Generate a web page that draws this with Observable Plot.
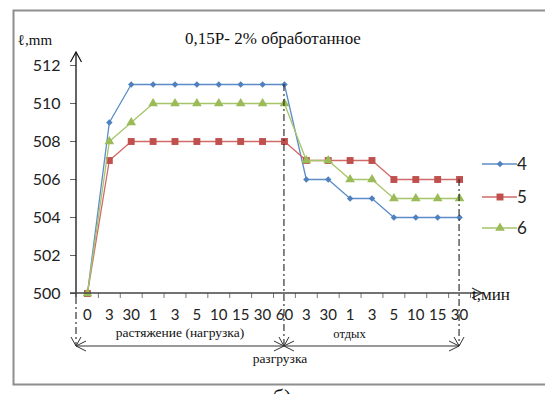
<!DOCTYPE html>
<html><head><meta charset="utf-8">
<script src="https://cdn.jsdelivr.net/npm/d3@7"></script>
<script src="https://cdn.jsdelivr.net/npm/@observablehq/plot@0.6"></script>
<style>html,body{margin:0;padding:0;background:#fff;overflow:hidden}#chart svg{display:block;max-width:none !important;overflow:hidden}</style>
</head><body><div id="chart"></div>
<script>
const tickLabels = ["0","3","30","1","3","5","10","15","30","60","3","30","1","3","5","10","15","30"];
const series4 = [500,509,511,511,511,511,511,511,511,511,506,506,505,505,504,504,504,504];
const series5 = [500,507,508,508,508,508,508,508,508,508,507,507,507,507,506,506,506,506];
const series6 = [500,508,509,510,510,510,510,510,510,510,507,507,506,506,505,505,505,505];
const seriesNames = ["4","5","6"];
const yTicks = [500,502,504,506,508,510,512];
const titleText = "0,15Р- 2% обработанное";
const yLabel = "ℓ,mm";
const xLabel = "t,мин";
const phaseLoad = "растяжение (нагрузка)";
const phaseRest = "отдых";
const phaseUnload = "разгрузка";
const caption = "б)";

const colors = ["#4F81BD","#C0504D","#9BBB59"];
const lineColors = ["#5B8CC8","#D06A67","#A6C46A"];
const symbols = ["diamond2","square","triangle"];
const radii = [2.9,3.9,3.6];
const allSeries = [series4, series5, series6];

const marks = [
  Plot.axisY(yTicks, {anchor:"left", label:null, tickSize:6, tickPadding:10, fontSize:16, fontFamily:"Lato", stroke:"#666", fill:"#222", tickFormat:d=>String(d)}),
  Plot.axisX(d3.range(18).map(i=>i+0.5), {anchor:"bottom", label:null, tickSize:5, tickFormat:()=>"", stroke:"#777"}),
  Plot.axisX(d3.range(18), {anchor:"bottom", label:null, tickSize:0, tickPadding:16, fontSize:15, fontFamily:"Lato", fill:"#222", tickFormat:i=>tickLabels[i]})
];
allSeries.forEach((s,k)=>{
  const rows = s.map((v,i)=>({i, v}));
  marks.push(Plot.line(rows, {x:"i", y:"v", stroke:lineColors[k], strokeWidth:1.3}));
  marks.push(Plot.dot(rows, {x:"i", y:"v", symbol:symbols[k], r:radii[k], fill:colors[k], stroke:"none"}));
});

const plot = Plot.plot({
  width:545, height:394,
  marginLeft:76, marginRight:75, marginTop:65, marginBottom:101,
  x:{type:"linear", domain:[-0.5,17.5], axis:null, label:null},
  y:{domain:[500,512], axis:null, label:null},
  style:{background:"transparent", overflow:"hidden", maxWidth:"none"},
  marks
});

const svg = d3.select(plot);
const xs = plot.scale("x"), ys = plot.scale("y");
const X = v=>xs.apply(v), Y = v=>ys.apply(v);
const x0 = X(-0.5), y0 = Y(500);
const bracketY = y0 + 53;

// frame
svg.insert("rect", ":first-child")
  .attr("x",13.5).attr("y",10.5).attr("width",540).attr("height",374)
  .attr("fill","none").attr("stroke","#8e8e8e").attr("stroke-width",2);

const g = svg.append("g").attr("fill","none");
// y axis with arrow
const yTop = Y(512) - 13;
g.append("line").attr("x1",x0).attr("x2",x0).attr("y1",y0+4).attr("y2",yTop).attr("stroke","#111").attr("stroke-width",1.3);
g.append("path").attr("d",`M${x0-5.5},${yTop+10}L${x0},${yTop}L${x0+5.5},${yTop+10}`).attr("stroke","#111").attr("stroke-width",1.2);
// x axis with arrow
const xEnd = X(17.5) + 12;
g.append("line").attr("x1",x0-6).attr("x2",xEnd).attr("y1",y0).attr("y2",y0).attr("stroke","#444").attr("stroke-width",1.5);
g.append("path").attr("d",`M${xEnd-10},${y0-5}L${xEnd},${y0}L${xEnd-10},${y0+5}`).attr("stroke","#333").attr("stroke-width",1.2);

// dash-dot verticals
const dash = "7,3,2,3";
[[x0, y0+4], [X(9), Y(series4[9])], [X(17), Y(series5[17])]].forEach(([x,yStart])=>{
  g.append("line").attr("x1",x).attr("x2",x).attr("y1",yStart).attr("y2",bracketY)
    .attr("stroke","#222").attr("stroke-width",1.1).attr("stroke-dasharray",dash);
  g.append("path").attr("d",`M${x-5},${bracketY-9}L${x},${bracketY}L${x+5},${bracketY-9}`).attr("stroke","#333").attr("stroke-width",1);
});
// horizontal bracket arrows
const xm = X(9), xr = X(17);
g.append("line").attr("x1",x0).attr("x2",xr).attr("y1",bracketY).attr("y2",bracketY).attr("stroke","#333").attr("stroke-width",1.2);
const head = (x,dir)=>g.append("path").attr("d",`M${x+dir*10},${bracketY-5}L${x},${bracketY}L${x+dir*10},${bracketY+5}`).attr("stroke","#333").attr("stroke-width",1);
head(x0, 1); head(xm, -1); head(xm, 1); head(xr, -1);

// texts
const t = svg.append("g").attr("fill","#111");
t.append("text").attr("x",273).attr("y",44).attr("text-anchor","middle").attr("font-family","Liberation Serif").attr("font-size",17).text(titleText);
t.append("text").attr("x",35).attr("y",45).attr("font-family","Liberation Serif").attr("font-size",15).text(yLabel);
t.append("text").attr("x",491).attr("y",300).attr("font-family","Liberation Serif").attr("font-size",17).text(xLabel);
t.append("text").attr("x",(x0+xm)/2).attr("y",337).attr("text-anchor","middle").attr("font-family","Liberation Serif").attr("font-size",13.5).text(phaseLoad);
t.append("text").attr("x",(xm+xr)/2 - 22).attr("y",338).attr("text-anchor","middle").attr("font-family","Liberation Serif").attr("font-size",12.5).text(phaseRest);
t.append("text").attr("x",xm - 4).attr("y",363).attr("text-anchor","middle").attr("font-family","Liberation Serif").attr("font-size",13.5).text(phaseUnload);
t.append("text").attr("x",282).attr("y",404).attr("text-anchor","middle").attr("font-family","Liberation Serif").attr("font-size",22).text(caption);

// legend
const legY = [164,197,228];
seriesNames.forEach((n,k)=>{
  const lg = svg.append("g");
  lg.append("line").attr("x1",482).attr("x2",517).attr("y1",legY[k]).attr("y2",legY[k]).attr("stroke",lineColors[k]).attr("stroke-width",1.3);
  const sym = {diamond2:d3.symbolDiamond2, square:d3.symbolSquare, triangle:d3.symbolTriangle}[symbols[k]];
  lg.append("path").attr("transform",`translate(500,${legY[k]})`).attr("d",d3.symbol(sym, radii[k]*radii[k]*Math.PI)()).attr("fill",colors[k]);
  lg.append("text").attr("x",522).attr("y",legY[k]+6).attr("font-family","Lato").attr("font-size",17).attr("fill","#222").text(n);
});

document.getElementById("chart").appendChild(plot);
</script>
</body></html>
